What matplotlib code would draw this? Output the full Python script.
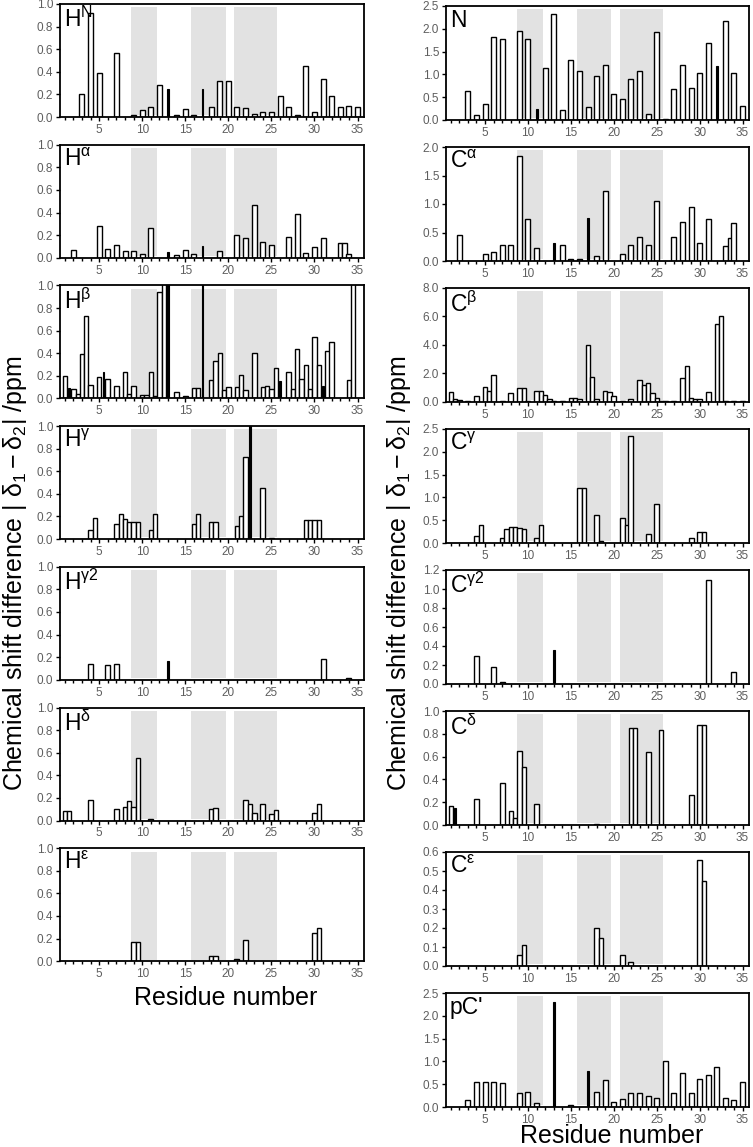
import numpy as np
import matplotlib
matplotlib.use("Agg")
import matplotlib.pyplot as plt
from matplotlib.ticker import MultipleLocator, FormatStrFormatter

plt.rcParams['font.family'] = ['Liberation Sans', 'DejaVu Sans']
plt.rcParams['mathtext.fontset'] = 'custom'
plt.rcParams['mathtext.rm'] = 'Liberation Sans'
plt.rcParams['mathtext.it'] = 'Liberation Sans:italic'

n = np.nan
residues = np.arange(1, 36)
helix_spans = [(8.7, 11.7), (15.7, 19.7), (20.7, 25.7)]

# each panel: first value per residue, second value (2nd proton/carbon) per residue,
# residues whose first / second mark is drawn as a thin black bar
# ---- left column (protons) ----
HN = [n, n, 0.20, 0.92, 0.39, n, 0.57, n, 0.02, 0.065, 0.09, 0.28, 0.25, 0.015, 0.075,
      0.02, 0.25, 0.09, 0.32, 0.32, 0.09, 0.08, 0.03, 0.045, 0.045, 0.19, 0.09, 0.015,
      0.45, 0.045, 0.335, 0.19, 0.09, 0.10, 0.09]
HN_2 = [n] * 35
HN_dark, HN_dark2 = [13, 17], []

HA = [n, 0.07, n, n, 0.28, 0.08, 0.115, 0.056, 0.056, 0.03, 0.26, n, 0.05, 0.025, 0.07,
      0.03, 0.10, n, 0.056, n, 0.20, 0.17, 0.47, 0.14, 0.11, n, 0.18, 0.385, 0.04, 0.095,
      0.17, n, 0.13, 0.03, n]
HA_2 = [n] * 32 + [0.13, n, n]
HA_dark, HA_dark2 = [13, 17], []

HB = [0.20, 0.08, 0.39, 0.12, 0.19, 0.175, 0.11, 0.23, 0.11, 0.03, 0.23, 0.94, 1.2, 0.06,
      0.02, 0.09, 1.2, 0.16, 0.40, 0.10, 0.10, 0.07, 0.40, 0.10, 0.08, 0.155, 0.23, 0.44,
      0.30, 0.54, 0.11, 0.50, n, 0.16, n]
HB_2 = [0.09, 0.04, 0.73, n, 0.23, n, n, 0.04, n, 0.03, 0.02, 1.2, n, n, n, 0.09, n,
        0.33, 0.07, n, 0.21, n, n, 0.11, 0.27, n, 0.08, 0.17, 0.08, 0.30, 0.42, n, n,
        1.2, n]
HB_dark, HB_dark2 = [13, 17, 26, 31], [1, 5]

HG = [n, n, n, 0.08, n, n, 0.13, 0.18, 0.15, n, 0.08, n, n, n, n, 0.13, n, 0.15, n,
      n, 0.12, 0.73, n, 0.45, 0.01, n, n, n, 0.17, 0.17, n, n, n, n, n]
HG_2 = [n, n, n, 0.19, n, n, 0.22, 0.15, 0.15, n, 0.22, n, n, n, n, 0.22, n, 0.15, n, n,
        0.20, 1.2, n, n, n, n, n, n, 0.17, 0.17, n, n, n, n, n]
HG_dark, HG_dark2 = [], [22]

HG2 = [n, n, n, 0.14, n, 0.13, 0.14, n, n, n, n, n, 0.17, n, n, n, n, n, n, n, n, n, n,
       n, n, n, n, n, n, n, 0.18, n, n, 0.02, n]
HG2_2 = [n] * 35
HG2_dark, HG2_dark2 = [13], []

HD = [0.08, n, n, 0.18, n, n, 0.10, 0.12, 0.12, n, 0.01, n, n, n, n, n, n, 0.10, n, n,
      n, 0.18, 0.07, 0.15, 0.06, n, n, n, n, 0.07, n, n, n, n, n]
HD_2 = [0.08, n, n, n, n, n, n, 0.17, 0.55, n, n, n, n, n, n, n, n, 0.11, n, n, n, 0.15,
        n, n, 0.09, n, n, n, n, 0.15, n, n, n, n, n]
HD_dark, HD_dark2 = [], []

HE = [n, n, n, n, n, n, n, n, 0.17, n, n, n, n, n, n, n, n, 0.05, n, n, 0.02, 0.19, n,
      n, n, n, n, n, n, 0.25, n, n, n, n, n]
HE_2 = [n, n, n, n, n, n, n, n, 0.17, n, n, n, n, n, n, n, n, 0.05, n, n, n, n, n, n, n,
        n, n, n, n, 0.29, n, n, n, n, n]
HE_dark, HE_dark2 = [], []

# ---- right column (heavy atoms) ----
N15 = [n, n, 0.64, 0.10, 0.35, 1.82, 1.78, n, 1.96, 1.78, 0.24, 1.14, 2.33, 0.21, 1.32,
       1.07, 0.28, 0.96, 1.21, 0.56, 0.46, 0.90, 1.07, 0.13, 1.93, 0.03, 0.68, 1.21, 0.71,
       1.03, 1.68, 1.18, 2.18, 1.03, 0.31]
N15_2 = [n] * 35
N15_dark, N15_dark2 = [11, 32], []

CA = [n, 0.45, n, n, 0.12, 0.165, 0.28, 0.28, 1.84, 0.74, 0.235, n, 0.31, 0.28, 0.03,
      0.03, 0.75, 0.09, 1.22, n, 0.13, 0.28, 0.42, 0.28, 1.06, n, 0.42, 0.69, 0.94, 0.31,
      0.735, n, 0.26, 0.66, n]
CA_2 = [n] * 32 + [0.40, n, n]
CA_dark, CA_dark2 = [13, 17], []

CB = [0.70, 0.15, 0.10, 0.40, 1.07, 1.86, 0.10, 0.60, 0.95, 0.10, 0.80, 0.50, 0.10, 0.05,
      0.30, 0.20, 4.00, 0.20, 0.80, 0.40, 0.10, 0.20, 1.55, 1.30, 0.30, 0.10, 0.10, 1.65,
      0.30, 0.20, 0.70, 5.50, 0.05, 0.10, 0.05]
CB_2 = [0.20, n, n, n, 0.80, n, n, n, 0.95, n, 0.75, 0.20, n, n, 0.30, n, 1.75, n, 0.70,
        n, n, n, 1.20, 0.60, 0.10, n, n, 2.50, 0.20, n, n, 6.00, n, n, n]
CB_dark, CB_dark2 = [], []

CG = [n, n, n, 0.15, n, n, 0.12, 0.35, 0.33, n, 0.10, n, n, n, n, 1.20, n, 0.62, n,
      n, 0.55, 2.35, n, 0.20, 0.85, n, n, n, 0.10, 0.25, n, n, n, n, n]
CG_2 = [n, n, n, 0.40, n, n, 0.30, 0.35, 0.30, n, 0.40, n, n, n, n, 1.20, n, 0.05, n, n,
        0.40, n, n, n, n, n, n, n, n, 0.25, n, n, n, n, n]
CG_dark, CG_dark2 = [], []

CG2 = [n, n, n, 0.30, n, 0.18, 0.02, n, n, n, n, n, 0.36, n, n, n, n, n, n, n, n, n, n,
       n, n, n, n, n, n, n, 1.10, n, n, 0.13, n]
CG2_2 = [n] * 35
CG2_dark, CG2_dark2 = [13], []

CD = [0.17, n, n, 0.23, n, n, 0.37, 0.12, 0.65, n, 0.18, n, n, n, n, n, n, 0.01, n,
      n, n, 0.85, n, 0.64, n, n, n, n, 0.26, 0.88, n, n, n, n, n]
CD_2 = [0.15, n, n, n, n, n, n, 0.06, 0.51, n, n, n, n, n, n, n, n, n, n, n, n, 0.85, n,
        n, 0.83, n, n, n, n, 0.88, n, n, n, n, n]
CD_dark, CD_dark2 = [], [1]

CE = [n, n, n, n, n, n, n, n, 0.06, n, n, n, n, n, n, n, n, 0.20, n, n, 0.06, 0.02, n,
      n, n, n, n, n, n, 0.56, n, n, n, n, n]
CE_2 = [n, n, n, n, n, n, n, n, 0.11, n, n, n, n, n, n, n, n, 0.15, n, n, n, n, n, n, n,
        n, n, n, n, 0.45, n, n, n, n, n]
CE_dark, CE_dark2 = [], []

CO = [n, n, 0.15, 0.55, 0.55, 0.55, 0.52, n, 0.30, 0.32, 0.08, n, 2.30, n, 0.05, n, 0.78,
      0.32, 0.60, 0.10, 0.18, 0.30, 0.30, 0.25, 0.20, 1.00, 0.30, 0.75, 0.30, 0.62, 0.70,
      0.88, 0.20, 0.15, 0.55]
CO_2 = [n] * 35
CO_dark, CO_dark2 = [13, 17], []

left_panels = [
    (r'H$^{\mathregular{N}}$', HN, HN_2, HN_dark, HN_dark2, 1.0, 0.2),
    (r'H$^{\mathregular{α}}$', HA, HA_2, HA_dark, HA_dark2, 1.0, 0.2),
    (r'H$^{\mathregular{β}}$', HB, HB_2, HB_dark, HB_dark2, 1.0, 0.2),
    (r'H$^{\mathregular{γ}}$', HG, HG_2, HG_dark, HG_dark2, 1.0, 0.2),
    (r'H$^{\mathregular{γ2}}$', HG2, HG2_2, HG2_dark, HG2_dark2, 1.0, 0.2),
    (r'H$^{\mathregular{δ}}$', HD, HD_2, HD_dark, HD_dark2, 1.0, 0.2),
    (r'H$^{\mathregular{ε}}$', HE, HE_2, HE_dark, HE_dark2, 1.0, 0.2),
]
right_panels = [
    ('N', N15, N15_2, N15_dark, N15_dark2, 2.5, 0.5),
    (r'C$^{\mathregular{α}}$', CA, CA_2, CA_dark, CA_dark2, 2.0, 0.5),
    (r'C$^{\mathregular{β}}$', CB, CB_2, CB_dark, CB_dark2, 8.0, 2.0),
    (r'C$^{\mathregular{γ}}$', CG, CG_2, CG_dark, CG_dark2, 2.5, 0.5),
    (r'C$^{\mathregular{γ2}}$', CG2, CG2_2, CG2_dark, CG2_dark2, 1.2, 0.2),
    (r'C$^{\mathregular{δ}}$', CD, CD_2, CD_dark, CD_dark2, 1.0, 0.2),
    (r'C$^{\mathregular{ε}}$', CE, CE_2, CE_dark, CE_dark2, 0.6, 0.1),
    ("pC'", CO, CO_2, CO_dark, CO_dark2, 2.5, 0.5),
]

W, H = 753, 1147
fig = plt.figure(figsize=(W / 100, H / 100), dpi=100)
grey = '#5e5e5e'


def one_bar(ax, x, v, dark, width):
    if dark:
        ax.bar(x, v, width=0.22, color='black', edgecolor='black', lw=0.8, zorder=3)
    else:
        ax.bar(x, v, width=width, color='white', edgecolor='black', lw=1.0, zorder=2)


def draw_panel(ax, label, main, second, dark, dark2, ymax, step):
    for a, b in helix_spans:
        ax.axvspan(a, b, ymin=0.015, ymax=0.97, color='#e2e2e2', lw=0, zorder=0)
    main = np.asarray(main, dtype=float)
    second = np.asarray(second, dtype=float)
    for r, v, v2 in zip(residues, main, second):
        paired = not np.isnan(v2)
        if not np.isnan(v):
            one_bar(ax, r, v, r in dark, 0.5 if paired else 0.58)
        if paired:
            one_bar(ax, r + 0.5, v2, r in dark2, 0.5)
    ax.set_xlim(0.45, 35.75)
    ax.set_ylim(0, ymax)
    ax.xaxis.set_minor_locator(MultipleLocator(1))
    ax.set_xticks([5, 10, 15, 20, 25, 30, 35])
    ax.yaxis.set_major_locator(MultipleLocator(step))
    ax.yaxis.set_major_formatter(FormatStrFormatter('%.1f'))
    ax.tick_params(axis='both', which='both', direction='out', width=1.0, length=3,
                   labelsize=8.5, labelcolor=grey, pad=2)
    ax.tick_params(axis='x', which='minor', length=2.5)
    for s in ax.spines.values():
        s.set_linewidth(1.3)
    ax.text(0.012, 0.975, label, transform=ax.transAxes, ha='left', va='top',
            fontsize=16.5, zorder=5)


def add_column(panels, x0, x1, top0, gap, h):
    axes = []
    for i, p in enumerate(panels):
        top = top0 + i * gap
        ax = fig.add_axes([x0 / W, 1 - (top + h) / H, (x1 - x0) / W, h / H])
        draw_panel(ax, *p)
        axes.append(ax)
    return axes


left_axes = add_column(left_panels, 60, 364, 4, 140.7, 113)
right_axes = add_column(right_panels, 446, 749, 6, 141.0, 114)

ylab = r'Chemical shift difference | $\mathregular{δ_1 − δ_2}$| /ppm'
fig.text(15 / W, 1 - 573 / H, ylab, rotation=90, ha='center', va='center', fontsize=18)
fig.text(399 / W, 1 - 573 / H, ylab, rotation=90, ha='center', va='center', fontsize=18)
fig.text(226 / W, 1 - 998 / H, 'Residue number', ha='center', va='center', fontsize=18)
fig.text(612 / W, 1 - 1136 / H, 'Residue number', ha='center', va='center', fontsize=18)

fig.savefig('out.png', dpi=100)
